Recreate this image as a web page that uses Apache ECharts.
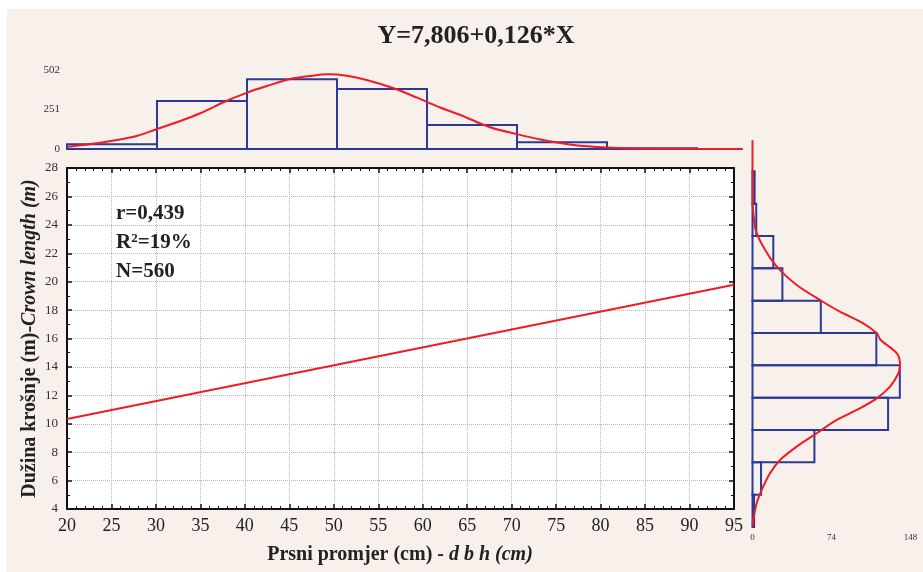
<!DOCTYPE html>
<html><head><meta charset="utf-8">
<script src="https://cdn.jsdelivr.net/npm/echarts@6/dist/echarts.min.js"></script>
<style>
html,body{margin:0;padding:0;background:#fff;overflow:hidden;}
#bg{position:absolute;left:7px;top:9px;width:916px;height:563px;background:#f7f0eb;}
#chart{position:absolute;left:0;top:0;width:923px;height:572px;}
</style></head><body>
<div id="bg"></div><div id="chart"></div>
<script>
// Main scatter-regression axes
const xTickLabels = [20,25,30,35,40,45,50,55,60,65,70,75,80,85,90,95];
const yTickLabels = [4,6,8,10,12,14,16,18,20,22,24,26,28];
// Regression line (Y = 7,806 + 0,126*X)
const regX = [20, 95];
const regY = [10.33, 19.78];

// Top histogram: dbh classes (cm) and counts
const topBinStart = [20,30,40,50,60,70,80];
const topBinEnd   = [30,40,50,60,70,80,90];
const topCounts   = [30,305,443,382,153,43,4];
const topTicks    = [0,251,502];
// Top fitted normal curve
const topCurveX = [20.1,23.7,27.4,30.0,32.6,34.8,37.7,40.1,42.2,44.8,47.0,49.0,51.1,53.3,56.3,58.9,61.4,63.7,67.0,70.1,72.6,76.3,80.0,84.4,95.1];
const topCurveY = [15,40,78,127,178,227,305,360,400,445,464,475,466,439,386,326,265,216,138,93,61,25,9,1,0];

// Right histogram: crown length classes (m) and counts
const rightBinStart = [4,6,8,10,12,14,16,18,20,22,24,26];
const rightBinEnd   = [6,8,10,12,14,16,18,20,22,24,26,28];
const rightCounts   = [1.5,8,58,127,138,116,64,28,19.5,3.5,2,0];
const rightTicks    = [0,74,148];
// Right fitted normal curve (count, crown length)
const rightCurveCount = [0,0,2.3,5.4,10.1,18,25.8,41.4,63.2,81.9,103.8,116.4,120,135.1,138.2,136.7,128.8,116.4,97.7,78.9,60.2,41.4,25.8,16.4,8.6,3.9,0.7,0];
const rightCurveLen   = [27.93,24.43,22.57,21.95,21.34,20.51,19.89,18.97,18.04,17.32,16.60,15.98,15.57,14.75,14.02,13.51,12.68,11.96,11.24,10.62,9.80,8.97,8.14,7.32,6.29,5.47,4.43,4.02];

const SERIF = '"Liberation Serif","DejaVu Serif",serif';
const BLUE = '#2b3a98';
const RED = '#ee1c25';

const chart = echarts.init(document.getElementById('chart'), null, {renderer:'canvas'});

const topData = topBinStart.map((s,i)=>[s, topBinEnd[i], topCounts[i]]);
const rightData = rightBinStart.map((s,i)=>[s, rightBinEnd[i], rightCounts[i]]);

const tickStyle = {show:true, inside:true, length:5, lineStyle:{color:'#111', width:1.5}};
const minorStyle = {show:true, length:3, lineStyle:{color:'#111', width:1}};
const annot = {fontFamily:SERIF, fontSize:21, fontWeight:'bold', fill:'#222', color:'#222'};

const option = {
  backgroundColor: 'transparent',
  animation: false,
  grid: [
    {left:67, top:168, width:667, height:341, show:true, backgroundColor:'#fff', borderWidth:0},
    {left:67, top:70, width:675, height:79},
    {left:752.5, top:139, width:158, height:388}
  ],
  xAxis: [
    {gridIndex:0, type:'value', position:'bottom', min:20, max:95, interval:5,
     axisLine:{show:true, lineStyle:{color:'#111', width:2}},
     axisTick:tickStyle, minorTick:Object.assign({splitNumber:5}, minorStyle),
     splitLine:{show:true, lineStyle:{type:'dotted', color:'#b5b5b5', width:1}},
     axisLabel:{fontFamily:SERIF, fontSize:18, color:'#222', margin:8}},
    {gridIndex:0, type:'value', position:'top', min:20, max:95, interval:5,
     axisLine:{show:true, lineStyle:{color:'#111', width:2}},
     axisTick:tickStyle, minorTick:Object.assign({splitNumber:5}, minorStyle),
     splitLine:{show:false}, axisLabel:{show:false}},
    {gridIndex:1, type:'value', min:20, max:95, show:false},
    {gridIndex:2, type:'value', min:0, max:148, interval:74,
     axisLine:{show:false}, axisTick:{show:false}, splitLine:{show:false},
     axisLabel:{fontFamily:SERIF, fontSize:9, color:'#333', margin:6}}
  ],
  yAxis: [
    {gridIndex:0, type:'value', position:'left', min:4, max:28, interval:2,
     axisLine:{show:true, lineStyle:{color:'#111', width:2}},
     axisTick:tickStyle, minorTick:Object.assign({splitNumber:2}, minorStyle),
     splitLine:{show:true, lineStyle:{type:'dotted', color:'#b5b5b5', width:1}},
     axisLabel:{fontFamily:SERIF, fontSize:13, color:'#333', margin:9},
     name:'{b|Dužina krošnje (m)-}{i|Crown length (m)}',
     nameLocation:'middle', nameRotate:90, nameGap:27, nameMoveOverlap:false,
     nameTextStyle:{rich:{
       b:{fontFamily:SERIF, fontSize:20, fontWeight:'bold', color:'#222'},
       i:{fontFamily:SERIF, fontSize:20, fontWeight:'bold', fontStyle:'italic', color:'#222'}}}},
    {gridIndex:0, type:'value', position:'right', min:4, max:28, interval:2,
     axisLine:{show:true, lineStyle:{color:'#111', width:2}},
     axisTick:tickStyle, minorTick:Object.assign({splitNumber:2}, minorStyle),
     splitLine:{show:false}, axisLabel:{show:false}},
    {gridIndex:1, type:'value', min:0, max:502, interval:251,
     axisLine:{show:false}, axisTick:{show:false}, splitLine:{show:false},
     axisLabel:{fontFamily:SERIF, fontSize:11, color:'#333', margin:7}},
    {gridIndex:2, type:'value', min:4, max:28, show:false}
  ],
  graphic: [
    {type:'text', x:476, y:36, style:{text:'Y=7,806+0,126*X', fontFamily:SERIF, fontSize:26, fontWeight:'bold', fill:'#222', align:'center', verticalAlign:'middle'}},
    {type:'text', x:116, y:214, z:10, style:Object.assign({text:'r=0,439', align:'left', verticalAlign:'middle'}, annot)},
    {type:'text', x:116, y:243, z:10, style:{text:'{a|R}{s|2}{a|=19%}', align:'left', verticalAlign:'middle',
      rich:{a:Object.assign({lineHeight:22}, annot), s:{fontFamily:SERIF, fontSize:13, fontWeight:'bold', fill:'#222', color:'#222', verticalAlign:'top', lineHeight:22}}}},
    {type:'text', x:116, y:272, z:10, style:Object.assign({text:'N=560', align:'left', verticalAlign:'middle'}, annot)},
    {type:'text', x:400, y:555, style:{text:'{b|Prsni promjer (cm) - }{i|d b h (cm)}', align:'center', verticalAlign:'middle',
      rich:{b:{fontFamily:SERIF, fontSize:20, fontWeight:'bold', fill:'#222', color:'#222'},
            i:{fontFamily:SERIF, fontSize:20, fontWeight:'bold', fontStyle:'italic', fill:'#222', color:'#222'}}}}
  ],
  series: [
    {type:'line', xAxisIndex:0, yAxisIndex:0, data: regX.map((x,i)=>[x, regY[i]]),
     showSymbol:false, lineStyle:{color:RED, width:2}, z:5},
    {type:'custom', xAxisIndex:2, yAxisIndex:2, data: topData, encode:{x:[0,1], y:2}, clip:false,
     renderItem:(params, api)=>{
       const p0 = api.coord([api.value(0), api.value(2)]);
       const p1 = api.coord([api.value(1), 0]);
       return {type:'rect', shape:{x:p0[0], y:p0[1], width:p1[0]-p0[0], height:p1[1]-p0[1]},
               style:{fill:'none', stroke:BLUE, lineWidth:2}};
     }},
    {type:'line', xAxisIndex:2, yAxisIndex:2, data: topCurveX.map((x,i)=>[x, topCurveY[i]]),
     showSymbol:false, smooth:0.3, lineStyle:{color:RED, width:2}, z:5},
    {type:'custom', xAxisIndex:3, yAxisIndex:3, data: rightData, encode:{x:2, y:[0,1]}, clip:false,
     renderItem:(params, api)=>{
       if (api.value(2) <= 0) return null;
       const p0 = api.coord([0, api.value(1)]);
       const p1 = api.coord([api.value(2), api.value(0)]);
       return {type:'rect', shape:{x:p0[0], y:p0[1], width:Math.max(p1[0]-p0[0],1), height:p1[1]-p0[1]},
               style:{fill:'none', stroke:BLUE, lineWidth:2}};
     }},
    {type:'line', xAxisIndex:3, yAxisIndex:3, data: rightCurveCount.map((c,i)=>[c, rightCurveLen[i]]),
     showSymbol:false, smooth:0.3, lineStyle:{color:RED, width:2}, z:5}
  ]
};
chart.setOption(option);
</script>
</body></html>
